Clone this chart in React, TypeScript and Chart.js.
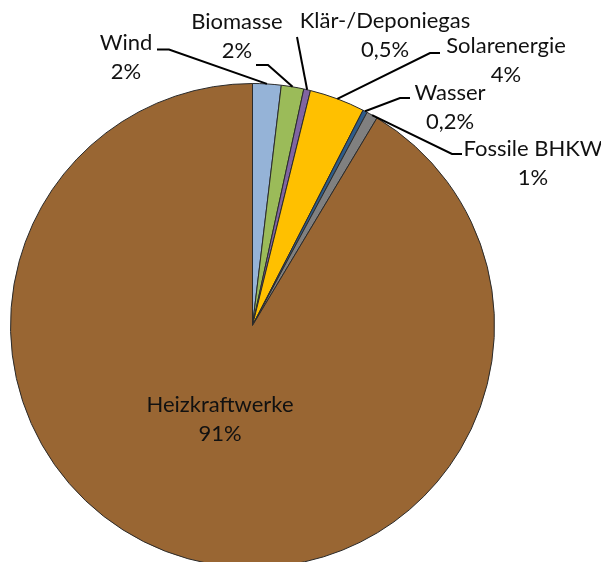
import React, { useEffect, useRef } from "react";
import { Chart, registerables } from "chart.js";

Chart.register(...registerables);

const categories = ["Wind", "Biomasse", "Klär-/Deponiegas", "Solarenergie", "Wasser", "Fossile BHKW", "Heizkraftwerke"];
const shares = [1.9, 1.5, 0.45, 3.7, 0.3, 0.75, 91.4];
const percentLabels = ["2%", "2%", "0,5%", "4%", "0,2%", "1%", "91%"];
const sliceColors = ["#95B3D7", "#9BBB59", "#8064A2", "#FFC000", "#2E5C8A", "#808080", "#996633"];

// label layout: text center (x, first line y), leader elbow and end (null => no leader)
const labelLayout = [
  { x: 126, y: 43, elbow: [169, 49.5], end: [157, 49.5] },
  { x: 237, y: 22, elbow: [268, 65], end: [256, 65] },
  { x: 385, y: 21, elbow: [297, 37], end: null },
  { x: 506, y: 46, elbow: [430, 53], end: [440, 53] },
  { x: 450, y: 93, elbow: [400, 98], end: [410, 98] },
  { x: 533, y: 149, elbow: [452, 154], end: [462, 154] },
  { x: 220, y: 405, elbow: null, end: null },
];

const FONT = "22px Lato, Carlito, 'Open Sans', sans-serif";
const LINE_GAP = 29;

const labelPlugin = {
  id: "pieLabels",
  afterDraw(chart: any) {
    const ctx = chart.ctx;
    const meta = chart.getDatasetMeta(0);
    ctx.save();
    meta.data.forEach((arc: any, i: number) => {
      const L = labelLayout[i];
      const p = arc.getProps(["x", "y", "startAngle", "endAngle", "outerRadius"], true);
      const mid = (p.startAngle + p.endAngle) / 2;
      if (L.elbow) {
        const rx = p.x + p.outerRadius * Math.cos(mid);
        const ry = p.y + p.outerRadius * Math.sin(mid);
        ctx.beginPath();
        ctx.strokeStyle = "#000";
        ctx.lineWidth = 2;
        ctx.moveTo(rx, ry);
        ctx.lineTo(L.elbow[0], L.elbow[1]);
        if (L.end) ctx.lineTo(L.end[0], L.end[1]);
        ctx.stroke();
      }
      ctx.fillStyle = "#111";
      ctx.font = FONT;
      ctx.textAlign = "center";
      ctx.textBaseline = "middle";
      ctx.fillText(categories[i], L.x, L.y);
      ctx.fillText(percentLabels[i], L.x, L.y + LINE_GAP);
    });
    ctx.restore();
  },
};

export default function App() {
  const ref = useRef<HTMLCanvasElement>(null);
  useEffect(() => {
    document.body.style.margin = "0";
    const chart = new Chart(ref.current!, {
      type: "pie",
      data: {
        labels: categories,
        datasets: [
          {
            data: shares,
            backgroundColor: sliceColors,
            borderColor: "#2a2a2a",
            borderWidth: 1,
          },
        ],
      },
      options: {
        responsive: false,
        animation: false,
        layout: { padding: { left: 10, right: 106, top: 83, bottom: 12 } },
        plugins: { legend: { display: false }, tooltip: { enabled: false } },
      },
      plugins: [labelPlugin],
    });
    return () => chart.destroy();
  }, []);
  return (
    <div style={{ width: 601, height: 562, overflow: "hidden", background: "#fff" }}>
      <canvas ref={ref} width={601} height={580} />
    </div>
  );
}
